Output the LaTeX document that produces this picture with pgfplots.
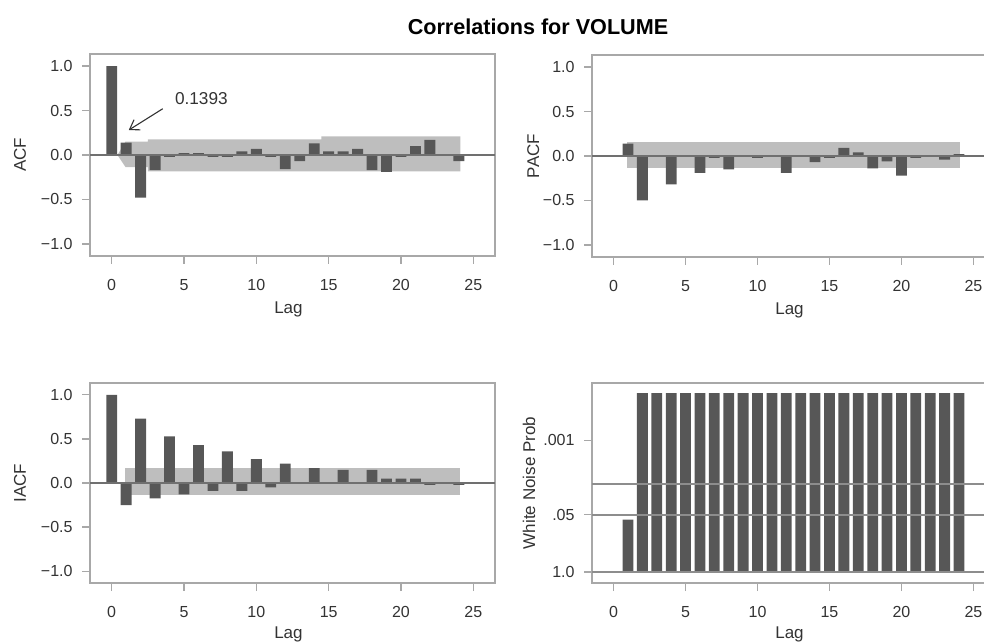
\documentclass[border=0pt]{standalone}
\usepackage{pgfplots}
\pgfplotsset{compat=1.18}
\usetikzlibrary{arrows.meta}
\usepackage{fontspec}
\setmainfont{Liberation Sans}
\definecolor{barc}{HTML}{575757}
\definecolor{bandc}{HTML}{BEBEBE}
\definecolor{framec}{HTML}{A8A8A8}
\definecolor{zeroc}{HTML}{707070}
\definecolor{txtc}{HTML}{333333}

\newcommand{\lblfont}{\fontsize{8.5}{10}\selectfont}

\pgfplotsset{
  panel/.style={
    scale only axis, anchor=south west,
    xmin=-1.5, xmax=26.5,
    xtick={0,5,10,15,20,25}, xticklabels={0,5,10,15,20,25},
    xtick pos=left, ytick pos=left, tick align=outside,
    major tick length=4pt,
    axis line style={framec, line width=0.75pt},
    tick style={framec, line width=0.6pt},
    tick label style={font=\fontsize{8}{9}\selectfont, text=txtc},
    xticklabel style={yshift=-4pt},
    yticklabel style={xshift=-1.2pt},
    xlabel={Lag},
  },
  corr/.style={
    panel, ymin=-1.135, ymax=1.135,
    ytick={-1,-0.5,0,0.5,1}, yticklabels={−1.0,−0.5,0.0,0.5,1.0},
  },
  bars/.style={ybar, bar width=0.75, fill=barc, draw=none},
}

\begin{document}
\begin{tikzpicture}
\path[use as bounding box] (0,0) rectangle (492pt,321pt);
\clip (0,0) rectangle (492pt,321pt);

\node[font=\bfseries\fontsize{10.8}{12}\selectfont] at (269pt,307.5pt) {Correlations for VOLUME};

% ACF
\begin{axis}[corr, at={(45pt,193pt)}, width=202.5pt, height=101pt,
  ylabel={ACF},
  every axis y label/.style={at={(axis description cs:-0.173,0.5)}, rotate=90, anchor=center, font=\lblfont, text=txtc},
  every axis x label/.style={at={(axis description cs:0.49,-0.262)}, anchor=center, font=\lblfont, text=txtc}]
\addplot[fill=bandc, draw=none] coordinates {
  (0.4,0) (0.95,0.15) (2.5,0.15) (2.5,0.175) (14.5,0.175) (14.5,0.21) (24.1,0.21)
  (24.1,-0.185) (2.5,-0.185) (2.5,-0.135) (0.95,-0.135)} -- cycle;
\addplot[bars] coordinates {
  (0,1.0) (1,0.1393) (2,-0.48) (3,-0.17) (4,-0.02) (5,0.02) (6,0.02) (7,-0.02)
  (8,-0.02) (9,0.04) (10,0.07) (11,-0.02) (12,-0.16) (13,-0.07) (14,0.13)
  (15,0.04) (16,0.04) (17,0.07) (18,-0.17) (19,-0.19) (20,-0.02) (21,0.10)
  (22,0.17) (23,0.01) (24,-0.07)};
\addplot[zeroc, line width=0.9pt] coordinates {(-1.5,0) (26.5,0)};
\node[font=\fontsize{8.6}{10}\selectfont, text=txtc] at (axis cs:6.2,0.63) {0.1393};
\draw[-{Straight Barb[length=4.5pt,width=6pt]}, txtc, line width=0.55pt] (axis cs:3.53,0.52) -- (axis cs:1.18,0.28);
\end{axis}

% PACF
\begin{axis}[corr, at={(296pt,192.5pt)}, width=201.5pt, height=101pt,
  ylabel={PACF},
  every axis y label/.style={at={(axis description cs:-0.146,0.5)}, rotate=90, anchor=center, font=\lblfont, text=txtc},
  every axis x label/.style={at={(axis description cs:0.49,-0.262)}, anchor=center, font=\lblfont, text=txtc}]
\addplot[fill=bandc, draw=none] coordinates {
  (0.93,0.158) (24.1,0.158) (24.1,-0.14) (0.93,-0.14)} -- cycle;
\addplot[bars] coordinates {
  (1,0.1393) (2,-0.50) (3,-0.01) (4,-0.32) (5,-0.01) (6,-0.19) (7,-0.02)
  (8,-0.15) (9,0.01) (10,-0.02) (11,-0.01) (12,-0.19) (13,0.01) (14,-0.07)
  (15,-0.02) (16,0.09) (17,0.04) (18,-0.14) (19,-0.06) (20,-0.22) (21,-0.02)
  (22,0.0) (23,-0.04) (24,0.02)};
\addplot[zeroc, line width=0.9pt] coordinates {(-1.5,0) (26.5,0)};
\end{axis}

% IACF
\begin{axis}[corr, at={(45pt,29.5pt)}, width=202.5pt, height=100pt,
  ylabel={IACF},
  every axis y label/.style={at={(axis description cs:-0.173,0.5)}, rotate=90, anchor=center, font=\lblfont, text=txtc},
  every axis x label/.style={at={(axis description cs:0.49,-0.255)}, anchor=center, font=\lblfont, text=txtc}]
\addplot[fill=bandc, draw=none] coordinates {
  (0.95,0.17) (24.1,0.17) (24.1,-0.14) (0.95,-0.14)} -- cycle;
\addplot[bars] coordinates {
  (0,1.0) (1,-0.25) (2,0.73) (3,-0.175) (4,0.53) (5,-0.13) (6,0.43) (7,-0.09)
  (8,0.36) (9,-0.09) (10,0.27) (11,-0.05) (12,0.22) (13,0.005) (14,0.17)
  (15,0.0) (16,0.15) (17,0.0) (18,0.15) (19,0.05) (20,0.05) (21,0.05)
  (22,-0.02) (23,0.01) (24,-0.02)};
\addplot[zeroc, line width=0.9pt] coordinates {(-1.5,0) (26.5,0)};
\end{axis}

% White noise
\begin{axis}[panel, at={(296pt,29.5pt)}, width=201.5pt, height=100pt,
  ymin=-0.25, ymax=4.3,
  ytick={0,1.30103,3}, yticklabels={1.0,.05,.001},
  ylabel={White Noise Prob},
  every axis y label/.style={at={(axis description cs:-0.156,0.5)}, rotate=90, anchor=center, font=\lblfont, text=txtc},
  every axis x label/.style={at={(axis description cs:0.49,-0.255)}, anchor=center, font=\lblfont, text=txtc}]
\addplot[bars] coordinates {
  (1,1.19) (2,4.07) (3,4.07) (4,4.07) (5,4.07) (6,4.07) (7,4.07) (8,4.07)
  (9,4.07) (10,4.07) (11,4.07) (12,4.07) (13,4.07) (14,4.07) (15,4.07)
  (16,4.07) (17,4.07) (18,4.07) (19,4.07) (20,4.07) (21,4.07) (22,4.07)
  (23,4.07) (24,4.07)};
\addplot[zeroc!80, line width=0.7pt] coordinates {(-1.5,0) (26.5,0)};
\addplot[zeroc!80, line width=0.7pt] coordinates {(-1.5,1.30103) (26.5,1.30103)};
\addplot[zeroc!80, line width=0.7pt] coordinates {(-1.5,2) (26.5,2)};
\end{axis}
\end{tikzpicture}
\end{document}
